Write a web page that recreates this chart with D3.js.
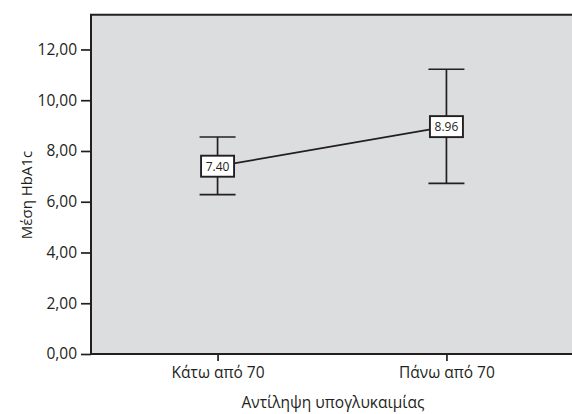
<!DOCTYPE html>
<html><head><meta charset="utf-8">
<script src="https://cdn.jsdelivr.net/npm/d3@7"></script>
<style>body{margin:0;background:#fff;} svg{display:block;} text{font-family:"Open Sans",sans-serif;fill:#231f20;}</style>
</head><body><svg id="c" width="572" height="414"></svg>
<script>
const categories = ["Κάτω από 70", "Πάνω από 70"];
const means = [7.40, 8.96];
const lower = [6.28, 6.72];
const upper = [8.55, 11.22];
const meanLabels = ["7.40", "8.96"];
const yTicks = [0, 2, 4, 6, 8, 10, 12];
const yTickLabels = ["0,00", "2,00", "4,00", "6,00", "8,00", "10,00", "12,00"];
const xTitle = "Αντίληψη υπογλυκαιμίας";
const yTitle = "Μέση HbA1c";

const svg = d3.select("#c");
const L = 91, R = 573, T = 14.7, B = 354;
const ink = "#231f20";
const x = d3.scalePoint().domain(categories).range([L, R]).padding(0.553);
const y = d3.scaleLinear().domain([0, 13.37]).range([B, T]);

svg.append("rect").attr("x", L).attr("y", T).attr("width", R - L).attr("height", B - T).attr("fill", "#dcdddf");

const data = categories.map((c, i) => ({c, m: means[i], lo: lower[i], hi: upper[i], lab: meanLabels[i]}));

svg.append("path").datum(data)
  .attr("d", d3.line().x(d => x(d.c)).y(d => y(d.m)))
  .attr("fill", "none").attr("stroke", ink).attr("stroke-width", 1.7);

const g = svg.selectAll(".eb").data(data).enter().append("g");
g.append("line").attr("x1", d => x(d.c)).attr("x2", d => x(d.c)).attr("y1", d => y(d.lo)).attr("y2", d => y(d.hi)).attr("stroke", ink).attr("stroke-width", 1.7);
g.append("line").attr("x1", d => x(d.c) - 18).attr("x2", d => x(d.c) + 18).attr("y1", d => y(d.hi)).attr("y2", d => y(d.hi)).attr("stroke", ink).attr("stroke-width", 1.7);
g.append("line").attr("x1", d => x(d.c) - 18).attr("x2", d => x(d.c) + 18).attr("y1", d => y(d.lo)).attr("y2", d => y(d.lo)).attr("stroke", ink).attr("stroke-width", 1.7);
g.append("rect").attr("x", d => x(d.c) - 16.5).attr("y", d => y(d.m) - 10.5).attr("width", 33).attr("height", 21)
  .attr("fill", "#fff").attr("stroke", ink).attr("stroke-width", 1.9);
g.append("text").attr("x", d => x(d.c)).attr("y", d => y(d.m)).attr("dy", "0.36em").attr("text-anchor", "middle")
  .attr("font-size", 12).text(d => d.lab);

const yAxis = d3.axisLeft(y).tickValues(yTicks).tickFormat((d, i) => yTickLabels[i]).tickSize(10).tickPadding(4);
const ya = svg.append("g").attr("transform", `translate(${L},0)`).call(yAxis);
const xAxis = d3.axisBottom(x).tickSize(7).tickPadding(6);
const xa = svg.append("g").attr("transform", `translate(0,${B})`).call(xAxis);
[ya, xa].forEach(a => {
  a.select(".domain").remove();
  a.selectAll("line").attr("stroke", ink).attr("stroke-width", 1.7);
  a.selectAll("text").attr("font-size", 15.5).attr("fill", ink).style("font-family", '"Open Sans",sans-serif');
});
svg.append("line").attr("x1", L).attr("x2", L).attr("y1", T).attr("y2", B).attr("stroke", ink).attr("stroke-width", 2);
svg.append("line").attr("x1", L - 1).attr("x2", R).attr("y1", B).attr("y2", B).attr("stroke", ink).attr("stroke-width", 2);
svg.append("line").attr("x1", L - 1).attr("x2", R).attr("y1", T).attr("y2", T).attr("stroke", ink).attr("stroke-width", 2);

svg.append("text").attr("x", (x(categories[0]) + x(categories[1])) / 2 + 1).attr("y", 408).attr("text-anchor", "middle").attr("font-size", 15.5).text(xTitle);
svg.append("text").attr("transform", "translate(32,195) rotate(-90)").attr("text-anchor", "middle").attr("font-size", 15).text(yTitle);
</script></body></html>
